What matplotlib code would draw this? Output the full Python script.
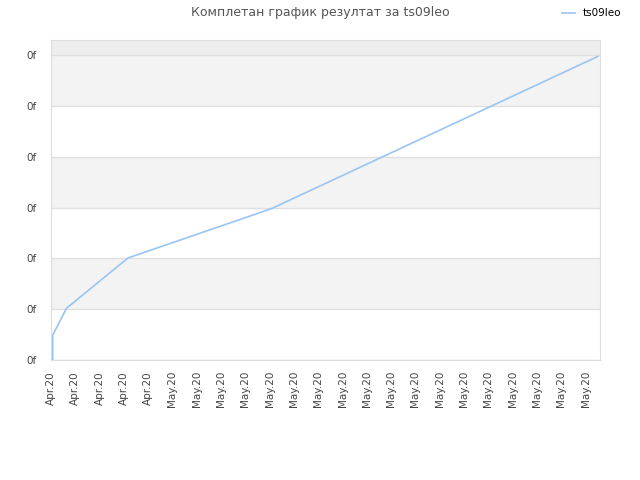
import datetime as dt
import numpy as np
import matplotlib
matplotlib.use('Agg')
from matplotlib import pyplot as plt
import matplotlib.dates as mdates

# data (score is tiny, every tick shows 0f)
dates = [dt.datetime(2020, 4, 26, 1, 40), dt.datetime(2020, 4, 26, 1, 41),
         dt.datetime(2020, 4, 26, 15, 20), dt.datetime(2020, 4, 29, 4, 0),
         dt.datetime(2020, 5, 5, 1, 30), dt.datetime(2020, 5, 18, 12, 0)]
score = [0.0, 0.49, 1.02, 2.01, 2.98, 5.98]
series_name = 'ts09leo'
title = 'Комплетан график резултат за ts09leo'

fig = plt.figure(figsize=(6.4, 4.8), dpi=100)
ax = fig.add_axes([0.0797, 0.25, 0.858, 0.6667])

ymax = 6.305
# alternating bands
for i in range(6):
    if i % 2 == 1:
        ax.axhspan(i, i + 1, color='#f3f3f3', zorder=0, lw=0)
ax.axhspan(6, ymax, color='#eeeeee', zorder=0, lw=0)
for i in range(7):
    ax.axhline(i, color='#e0e0e0', lw=1, zorder=1)

ax.plot(dates, score, color='#99c5f2', lw=1.2, label=series_name, zorder=3)

x0 = dt.datetime(2020, 4, 26)
ax.set_xlim(x0, x0 + dt.timedelta(days=22.6))
ax.set_ylim(0, ymax)
ax.set_xticks([x0 + dt.timedelta(days=d) for d in range(23)])
ax.xaxis.set_major_formatter(mdates.DateFormatter('%b.%y'))
ax.set_yticks(range(7))
ax.set_yticklabels(['0f'] * 7)
ax.tick_params(axis='x', rotation=90, length=0, labelsize=7.5, labelcolor='#444444', pad=8)
ax.tick_params(axis='y', length=0, labelsize=7.5, labelcolor='#444444', pad=10)
for s in ax.spines.values():
    s.set_color('#dddddd')

fig.text(0.5, 0.974, title, ha='center', va='center', fontsize=9, color='#555555')
fig.legend(loc='center', bbox_to_anchor=(0.925, 0.972), frameon=False, fontsize=7.5,
           handlelength=1.2, handletextpad=0.8)

fig.savefig('out.png', dpi=100)
